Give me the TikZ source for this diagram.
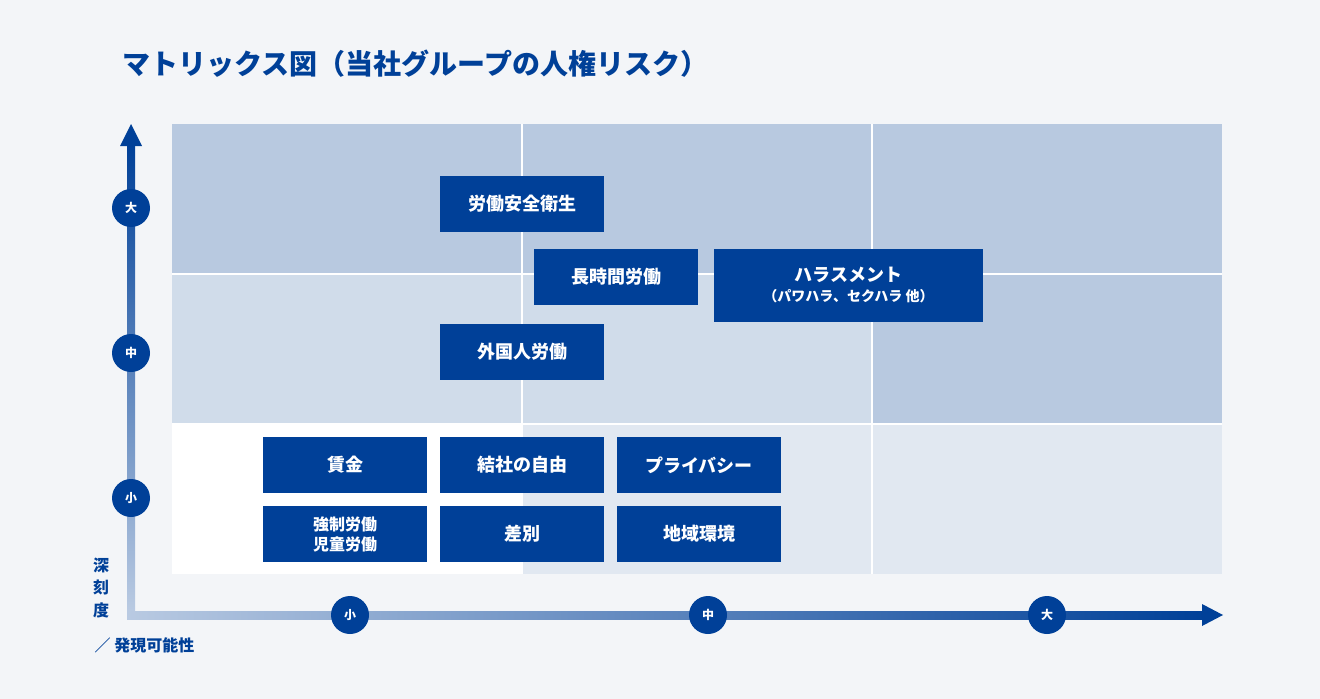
\documentclass[tikz,border=0pt]{standalone}
\usepackage{fontspec}
\newfontfamily\jp{Noto Sans CJK JP}
\definecolor{bgpage}{HTML}{F3F5F8}
\definecolor{riskblue}{HTML}{004098}
\definecolor{celldark}{HTML}{B8C9E0}
\definecolor{cellmid}{HTML}{D0DCEA}
\definecolor{celllight}{HTML}{E1E8F1}
\definecolor{axislight}{HTML}{B9CAE2}
\usetikzlibrary{positioning}

\begin{document}
\begin{tikzpicture}[x=0.75pt, y=-0.75pt, font=\jp\bfseries,
  riskbox/.style={fill=riskblue, text=white, inner sep=0pt, font=\jp\bfseries\fontsize{13.5}{16}\selectfont, align=center},
  levelmark/.style={circle, fill=riskblue, text=white, minimum size=28.5pt, inner sep=0pt, font=\jp\bfseries\fontsize{9}{10}\selectfont}]
  \fill[bgpage] (0,0) rectangle (1320,699);
  \useasboundingbox (0,0) rectangle (1320,699);

  % Title
  \node[anchor=west, text=riskblue, font=\jp\bfseries\fontsize{21}{24}\selectfont] (title) at (118,64) {マトリックス図（当社グループの人権リスク）};

  % Cells
  \fill[celldark] (172,124) rectangle (1222,274);
  \fill[cellmid] (172,274) rectangle (872,424);
  \fill[celldark] (872,274) rectangle (1222,424);
  \fill[white] (172,424) rectangle (522,574);
  \fill[celllight] (522,424) rectangle (1222,574);
  \draw[white, line width=1pt] (522,124) -- (522,574) (872,124) -- (872,574)
    (172,274) -- (1222,274) (172,424) -- (1222,424);

  % Axes
  \shade[bottom color=axislight, top color=riskblue] (127,610) rectangle (135,144);
  \fill[riskblue] (120,146) -- (131,124) -- (142,146) -- cycle;
  \shade[left color=axislight, right color=riskblue] (127,611) rectangle (1204,619);
  \fill[riskblue] (1202,604) -- (1223,615) -- (1202,626) -- cycle;

  \node[levelmark] (ybig) at (131,208) {大};
  \node[levelmark] (ymid) at (131,353) {中};
  \node[levelmark] (ysmall) at (131,498) {小};
  \node[levelmark] (xsmall) at (350,615) {小};
  \node[levelmark] (xmid) at (708,615) {中};
  \node[levelmark] (xbig) at (1047,615) {大};

  \node[text=riskblue, align=center, font=\jp\bfseries\fontsize{12}{17}\selectfont] (severity) at (101,588) {深\\刻\\度};
  \node[anchor=west, text=riskblue, font=\jp\bfseries\fontsize{12}{14}\selectfont] (likelihood) at (90,645) {／ 発現可能性};

  % Risks
  \node[riskbox, minimum width=123pt, minimum height=42pt] (safety) at (522,204) {労働安全衛生};
  \node[riskbox, minimum width=123pt, minimum height=42pt] (hours) at (616,277) {長時間労働};
  \node[riskbox, minimum width=202pt, minimum height=55pt] (harass) at (848.5,285.5) {ハラスメント\\[-1pt]{\fontsize{10.5}{13}\selectfont （パワハラ、セクハラ 他）}};
  \node[riskbox, minimum width=123pt, minimum height=42pt] (foreign) at (522,352) {外国人労働};
  \node[riskbox, minimum width=123pt, minimum height=42pt] (wage) at (345,465) {賃金};
  \node[riskbox, minimum width=123pt, minimum height=42pt] (assoc) at (522,465) {結社の自由};
  \node[riskbox, minimum width=123pt, minimum height=42pt] (privacy) at (699,465) {プライバシー};
  \node[riskbox, minimum width=123pt, minimum height=42pt, font=\jp\bfseries\fontsize{12}{15}\selectfont] (forced) at (345,534) {強制労働\\児童労働};
  \node[riskbox, minimum width=123pt, minimum height=42pt] (discrim) at (522,534) {差別};
  \node[riskbox, minimum width=123pt, minimum height=42pt] (region) at (699,534) {地域環境};
\end{tikzpicture}
\end{document}
